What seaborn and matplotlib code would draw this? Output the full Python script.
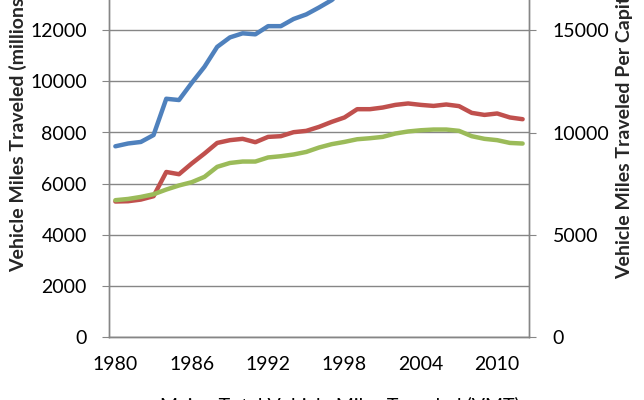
import numpy as np
import pandas as pd
import matplotlib.pyplot as plt
import seaborn as sns
from matplotlib.ticker import MultipleLocator

# Data (1980-2012)
years = list(range(1980, 2013))

# Maine total VMT, millions (left axis); values past 1997 run off the top of the picture
maine_total_vmt = [7460, 7570, 7630, 7900, 9320, 9270, 9940, 10570, 11350, 11720,
                   11880, 11840, 12160, 12160, 12440, 12620, 12890, 13180, 13600, 14100,
                   14200, 14300, 14500, 14700, 14800, 14800, 14900, 14800, 14400, 14300,
                   14400, 14200, 14200]

# VMT per capita (right axis)
maine_per_capita = [6625, 6640, 6720, 6885, 8070, 7960, 8485, 8970, 9490, 9625,
                    9690, 9525, 9785, 9820, 10015, 10080, 10275, 10520, 10735, 11140,
                    11140, 11220, 11350, 11420, 11350, 11300, 11370, 11290, 10960, 10860,
                    10930, 10735, 10650]
us_per_capita = [6690, 6750, 6850, 6980, 7210, 7410, 7570, 7830, 8320, 8510,
                 8580, 8580, 8780, 8840, 8925, 9050, 9265, 9430, 9540, 9670,
                 9720, 9785, 9950, 10050, 10110, 10145, 10145, 10080, 9820, 9690,
                 9625, 9490, 9460]

year_labels = [1980, 1986, 1992, 1998, 2004, 2010]

df = pd.DataFrame({"year": years, "total": maine_total_vmt,
                   "maine_pc": maine_per_capita, "us_pc": us_per_capita})

sns.set_style("white")
plt.rcParams["font.family"] = ["Lato", "DejaVu Sans"]
plt.rcParams["text.color"] = "black"

blue, red, green = "#4F81BD", "#C0504D", "#9BBB59"
grid_col = "#868686"
fs = 14

fig = plt.figure(figsize=(6.44, 4.0), dpi=100)
# axes extends above the figure so the top is cropped like the reference
ax = fig.add_axes([109 / 644, 63 / 400, 420 / 644, 409 / 400])
ax2 = ax.twinx()

sns.lineplot(data=df, x="year", y="total", ax=ax, color=blue, lw=3.2, legend=False)
sns.lineplot(data=df, x="year", y="maine_pc", ax=ax2, color=red, lw=3.2, legend=False)
sns.lineplot(data=df, x="year", y="us_pc", ax=ax2, color=green, lw=3.2, legend=False)

ax.set_xlim(1979.5, 2012.5)
ax.set_ylim(0, 16000)
ax2.set_ylim(0, 20000)
ax.yaxis.set_major_locator(MultipleLocator(2000))
ax2.yaxis.set_major_locator(MultipleLocator(5000))

ax.set_xticks(year_labels)
ax.set_xticks(np.arange(1979.5, 2013, 1), minor=True)
ax.tick_params(axis="x", which="major", length=0, pad=14, labelsize=fs, labelcolor="black")
ax.tick_params(axis="x", which="minor", length=6, color=grid_col, direction="out")
ax.tick_params(axis="y", length=5, color=grid_col, direction="out", pad=11, labelsize=fs,
               left=True, labelcolor="black")
ax2.tick_params(axis="y", length=5, color=grid_col, direction="out", pad=12, labelsize=fs,
                right=True, labelcolor="black")

ax.grid(axis="y", color=grid_col, lw=1)
ax.set_axisbelow(True)
for a in (ax, ax2):
    a.spines["top"].set_visible(False)
    for s in ("left", "right", "bottom"):
        a.spines[s].set_color(grid_col)
        a.spines[s].set_linewidth(1)

ax.set_xlabel("")
ax.set_ylabel("Vehicle Miles Traveled (millions)", fontsize=fs, fontweight="bold")
ax2.set_ylabel("Vehicle Miles Traveled Per Capita", fontsize=fs, fontweight="bold")
ax.yaxis.set_label_coords((27 - 109) / 420, 0.5)
ax2.yaxis.set_label_coords((616 - 109) / 420, 0.5)

fig.text(340 / 644, 1 - 396 / 400, "Maine Total Vehicle Miles Traveled (VMT)",
         ha="center", va="top", fontsize=fs)

fig.savefig("out.png", dpi=100)
